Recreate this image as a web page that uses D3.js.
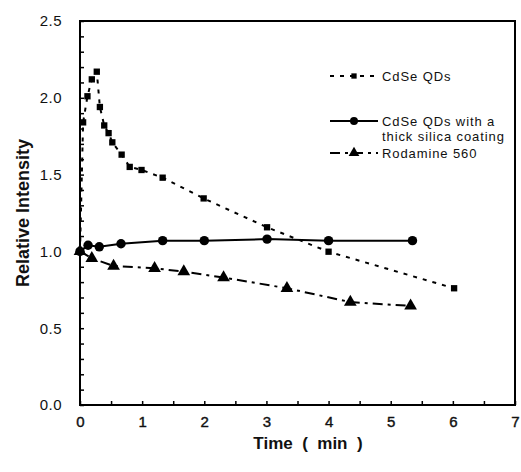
<!DOCTYPE html>
<html>
<head>
<meta charset="utf-8">
<script src="https://cdn.jsdelivr.net/npm/d3@7"></script>
<style>
  body { margin: 0; background: #fff; }
  text { font-family: "Liberation Sans", Arial, sans-serif; fill: #111; }
</style>
</head>
<body>
<div id="chart"></div>
<script>
// CdSe QDs (squares, dashed)
const qdTime = [0, 0.05, 0.12, 0.19, 0.27, 0.32, 0.39, 0.46, 0.52, 0.67, 0.80, 0.99, 1.33, 1.99, 3.01, 4.0, 6.02];
const qdValue = [1.0, 1.84, 2.01, 2.12, 2.17, 1.94, 1.82, 1.77, 1.71, 1.63, 1.55, 1.53, 1.48, 1.345, 1.157, 0.998, 0.76];

// CdSe QDs with thick silica coating (circles, solid)
const silicaTime = [0, 0.13, 0.31, 0.66, 1.33, 2.0, 3.01, 4.0, 5.35];
const silicaValue = [1.0, 1.04, 1.03, 1.05, 1.07, 1.07, 1.08, 1.07, 1.07];

// Rodamine 560 (triangles, dash-dot)
const rhoTime = [0, 0.19, 0.54, 1.2, 1.67, 2.31, 3.33, 4.35, 5.32];
const rhoValue = [1.0, 0.955, 0.905, 0.89, 0.868, 0.83, 0.76, 0.67, 0.645];

const xTicks = [0, 1, 2, 3, 4, 5, 6, 7];
const yTicks = [0, 0.5, 1.0, 1.5, 2.0, 2.5];

const legendLabels = [["CdSe QDs"], ["CdSe QDs with a", "thick silica coating"], ["Rodamine 560"]];

const W = 521, H = 472;
const margin = { top: 21, right: 6, bottom: 67, left: 80 };

const svg = d3.select("#chart").append("svg")
  .attr("width", W).attr("height", H);

const x = d3.scaleLinear().domain([0, 7]).range([margin.left, W - margin.right]);
const y = d3.scaleLinear().domain([0, 2.5]).range([H - margin.bottom, margin.top]);

// frame
svg.append("rect")
  .attr("x", x(0)).attr("y", y(2.5))
  .attr("width", x(7) - x(0)).attr("height", y(0) - y(2.5))
  .attr("fill", "none").attr("stroke", "#000").attr("stroke-width", 2);

// minor ticks inward
svg.append("g")
  .attr("transform", `translate(0,${y(0)})`)
  .call(d3.axisBottom(x).tickValues(d3.range(0, 7.01, 0.5)).tickSize(-4).tickFormat(""))
  .call(g => g.select(".domain").remove())
  .selectAll("line").attr("stroke-width", 1.5);

svg.append("g")
  .attr("transform", `translate(${x(0)},0)`)
  .call(d3.axisLeft(y).tickValues(d3.range(0, 2.51, 0.1)).tickSize(-4).tickFormat(""))
  .call(g => g.select(".domain").remove())
  .selectAll("line").attr("stroke-width", 1.5);

// tick labels
const xAxis = svg.append("g")
  .attr("transform", `translate(0,${y(0)})`)
  .call(d3.axisBottom(x).tickValues(xTicks).tickSize(0).tickPadding(11).tickFormat(d3.format("d")));
xAxis.select(".domain").remove();
xAxis.selectAll("text")
  .style("font-size", "15px").style("font-family", "Liberation Sans, Arial, sans-serif")
  .attr("stroke", "#111").attr("stroke-width", 0.4);

const yAxis = svg.append("g")
  .attr("transform", `translate(${x(0)},0)`)
  .call(d3.axisLeft(y).tickValues(yTicks).tickSize(0).tickPadding(18).tickFormat(d3.format(".1f")));
yAxis.select(".domain").remove();
yAxis.selectAll("text")
  .style("font-size", "15px").style("font-family", "Liberation Sans, Arial, sans-serif")
  .style("letter-spacing", "0.5px");

// axis titles
svg.append("text")
  .attr("x", 308).attr("y", 449)
  .attr("text-anchor", "middle")
  .style("font-size", "17px").style("font-weight", "bold")
  .style("white-space", "pre")
  .text("Time  (  min  )");

svg.append("text")
  .attr("transform", `translate(29,${(y(0) + y(2.5)) / 2}) rotate(-90)`)
  .attr("text-anchor", "middle")
  .style("font-size", "18px").style("font-weight", "bold")
  .text("Relative Intensity");

const line = d3.line().x(d => x(d[0])).y(d => y(d[1]));

const qd = qdTime.map((t, i) => [t, qdValue[i]]);
const silica = silicaTime.map((t, i) => [t, silicaValue[i]]);
const rho = rhoTime.map((t, i) => [t, rhoValue[i]]);

const dashQd = "4,6";
const dashRho = "10,5,3,5";

svg.append("path").attr("d", line(qd)).attr("fill", "none")
  .attr("stroke", "#000").attr("stroke-width", 2).attr("stroke-dasharray", dashQd);
svg.append("path").attr("d", line(silica)).attr("fill", "none")
  .attr("stroke", "#000").attr("stroke-width", 2);
svg.append("path").attr("d", line(rho)).attr("fill", "none")
  .attr("stroke", "#000").attr("stroke-width", 2).attr("stroke-dasharray", dashRho);

const sq = d3.symbol().type(d3.symbolSquare).size(40);
const ci = d3.symbol().type(d3.symbolCircle).size(70);
const tri = d3.symbol().type(d3.symbolTriangle).size(70);

svg.append("g").selectAll("path").data(qd).join("path")
  .attr("transform", d => `translate(${x(d[0])},${y(d[1])})`).attr("d", sq).attr("fill", "#000");
svg.append("g").selectAll("path").data(silica).join("path")
  .attr("transform", d => `translate(${x(d[0])},${y(d[1])})`).attr("d", ci).attr("fill", "#000");
svg.append("g").selectAll("path").data(rho).join("path")
  .attr("transform", d => `translate(${x(d[0])},${y(d[1])})`).attr("d", tri).attr("fill", "#000");

// legend
const legendY = [76, 121, 153];
const legendDash = [dashQd, null, dashRho];
const legendSym = [d3.symbol().type(d3.symbolSquare).size(28), d3.symbol().type(d3.symbolCircle).size(50), d3.symbol().type(d3.symbolTriangle).size(50)];
const lg = svg.append("g");
legendY.forEach((ly, i) => {
  lg.append("line").attr("x1", 330).attr("x2", 378).attr("y1", ly).attr("y2", ly)
    .attr("stroke", "#000").attr("stroke-width", 2)
    .attr("stroke-dasharray", legendDash[i]);
  lg.append("path").attr("transform", `translate(354,${ly})`).attr("d", legendSym[i]).attr("fill", "#000");
  legendLabels[i].forEach((s, j) => {
    lg.append("text").attr("x", 382).attr("y", ly + 5 + j * 15)
      .style("font-size", "13px").style("letter-spacing", "0.9px").text(s);
  });
});
</script>
</body>
</html>
